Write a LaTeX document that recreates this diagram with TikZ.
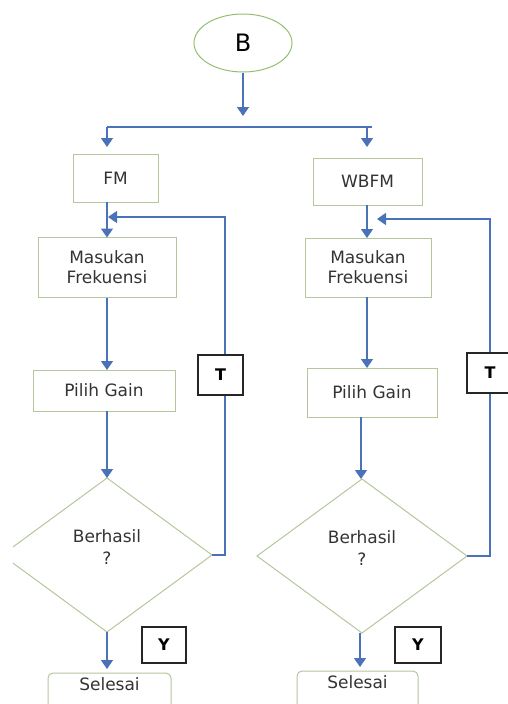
\documentclass[tikz,border=0pt]{standalone}
\usepackage{fontspec}
\setmainfont{DejaVu Sans}
\usepackage{tikz}
\usetikzlibrary{arrows.meta,shapes.geometric,positioning}
\definecolor{garishijau}{HTML}{B4C69C}
\definecolor{elipshijau}{HTML}{93BF72}
\definecolor{panahbiru}{HTML}{4A72B8}
\definecolor{teksabu}{HTML}{333333}
\tikzstyle{kotak}=[rectangle, draw=garishijau, line width=1pt, text=teksabu, align=center, inner sep=0pt, outer sep=0pt]
\tikzstyle{cek}=[diamond, draw=garishijau, line width=1pt, text=teksabu, align=center, inner sep=0pt, outer sep=0pt, minimum width=210pt, minimum height=154pt]
\tikzstyle{tanda}=[rectangle, draw=black!85, line width=1.2pt, fill=white, font=\fontsize{16}{18}\selectfont\bfseries, inner sep=0pt]
\tikzstyle{panah}=[draw=panahbiru, line width=1.4pt, -{Triangle[width=12pt,length=9pt]}]
\tikzstyle{garis}=[draw=panahbiru, line width=1.4pt]
\newcommand{\kotak}{\node[kotak]}

\begin{document}
\begin{tikzpicture}[x=1pt, y=-1pt, font=\fontsize{17}{20}\selectfont]
            \useasboundingbox (0,0) rectangle (508,704);
            \clip (13,0) rectangle (508,704);

            \node[ellipse, draw=elipshijau, line width=1pt, minimum width=98pt, minimum height=58pt, inner sep=0pt, font=\fontsize{24}{26}\selectfont] (b) at (243,43) {B};
            \coordinate (ujung) at (243,116);
            \coordinate (cabkiri) at (107,127);
            \coordinate (cabkanan) at (372,127);
            \coordinate (turun2) at (367,127);

            \kotak[minimum width=85pt, minimum height=48pt] (fm) at (115.5,178) {FM};
            \kotak[minimum width=109pt, minimum height=47pt] (wbfm) at (367.5,181.5) {WBFM};
            \kotak[minimum width=138pt, minimum height=60pt] (masuk1) at (107,267.5) {Masukan\\Frekuensi};
            \kotak[minimum width=126pt, minimum height=59pt] (masuk2) at (368,267.5) {Masukan\\Frekuensi};
            \kotak[minimum width=142pt, minimum height=41pt] (pilih1) at (104,390.5) {Pilih Gain};
            \kotak[minimum width=130pt, minimum height=49pt] (pilih2) at (372,392.5) {Pilih Gain};
            \node[cek] (cek1) at (107,555) {Berhasil\\[2pt]?\\[-4pt]\mbox{}};
            \node[cek] (cek2) at (362,556) {Berhasil\\[2pt]?\\[-4pt]\mbox{}};
            \kotak[anchor=north, minimum width=123pt, rounded corners=5pt, text height=12pt, text depth=26pt, inner ysep=5pt] (selesai1) at (109.5,673) {Selesai};
            \kotak[anchor=north, minimum width=121pt, rounded corners=5pt, text height=12pt, text depth=26pt, inner ysep=5pt] (selesai2) at (357.5,671) {Selesai};

            \coordinate (balik1) at (225,217);
            \coordinate (balik2) at (490,219);

            \path[panah] (b.south) -- (ujung);
            \path[garis] (cabkiri) -- (cabkanan);
            \path[panah, shorten >=7pt] (cabkiri) -- (cabkiri |- fm.north);
            \path[panah, shorten >=11pt] (turun2) -- (turun2 |- wbfm.north);
            \path[panah] (masuk1 |- fm.south) -- (masuk1.north);
            \path[panah] (turun2 |- wbfm.south) -- (turun2 |- masuk2.north);
            \path[panah] (masuk1.south) -- (pilih1.north -| masuk1.south);
            \path[panah] (pilih1.south -| masuk1.south) -- (cek1.north);
            \path[panah] (turun2 |- masuk2.south) -- (turun2 |- pilih2.north);
            \path[panah] (361,417) -- (cek2.north -| 361,0);
            \path[panah, shorten >=4pt] (cek1.south) -- (selesai1.north -| cek1.south);
            \path[panah, shorten >=4pt] (cek2.south -| 360,0) -- (selesai2.north -| 360,0);
            \path[panah] (cek1.east) -| (balik1) -- (108,217);
            \path[panah] (cek2.east) -| (balik2) -- (377,219);

            \node[tanda, minimum width=45pt, minimum height=40pt] (t1) at (220.5,375) {T};
            \node[tanda, minimum width=46pt, minimum height=40pt] (t2) at (490,373) {T};
            \node[tanda, minimum width=44pt, minimum height=36pt] (y1) at (164,645) {Y};
            \node[tanda, minimum width=46pt, minimum height=36pt] (y2) at (418,645) {Y};
        \end{tikzpicture}
\end{document}
